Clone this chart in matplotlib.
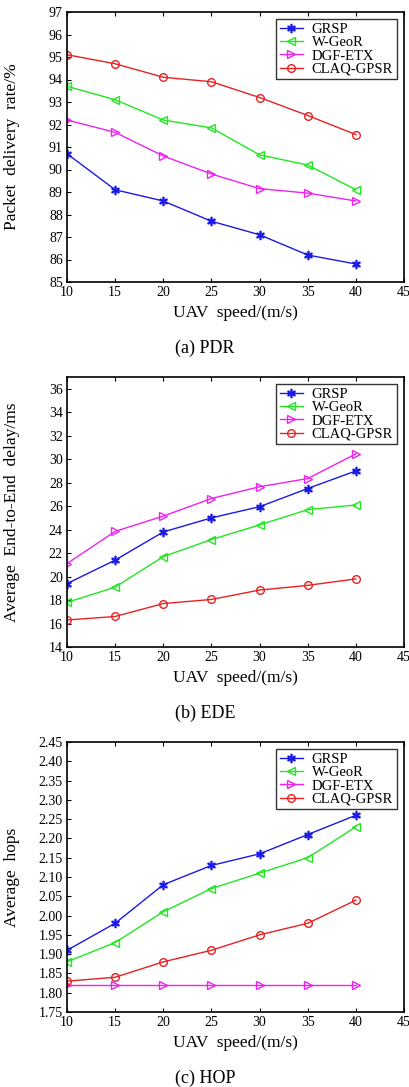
import matplotlib
matplotlib.use("Agg")
import matplotlib.pyplot as plt

plt.rcParams['font.family'] = ['Liberation Serif', 'DejaVu Serif']
plt.rcParams['mathtext.fontset'] = 'cm'

speed = [10, 15, 20, 25, 30, 35, 40]
names = ['GRSP', 'W-GeoR', 'DGF-ETX', 'CLAQ-GPSR']
colors = ['#1a1ae6', '#22e622', '#ee22ee', '#e62222']
markers = ['$\\ast$', '<', '>', 'o']

pdr_grsp = [90.7, 89.1, 88.6, 87.7, 87.1, 86.2, 85.8]
pdr_wgeor = [93.7, 93.1, 92.2, 91.85, 90.65, 90.2, 89.1]
pdr_dgf = [92.2, 91.65, 90.6, 89.8, 89.15, 88.95, 88.6]
pdr_claq = [95.1, 94.7, 94.1, 93.9, 93.2, 92.4, 91.55]

ede_grsp = [19.4, 21.4, 23.8, 25.0, 25.95, 27.5, 29.0]
ede_wgeor = [17.8, 19.1, 21.7, 23.15, 24.4, 25.7, 26.1]
ede_dgf = [21.1, 23.85, 25.15, 26.65, 27.65, 28.35, 30.45]
ede_claq = [16.3, 16.6, 17.7, 18.05, 18.85, 19.25, 19.8]

hop_grsp = [1.91, 1.98, 2.08, 2.13, 2.16, 2.21, 2.26]
hop_wgeor = [1.88, 1.93, 2.01, 2.07, 2.11, 2.15, 2.23]
hop_dgf = [1.82, 1.82, 1.82, 1.82, 1.82, 1.82, 1.82]
hop_claq = [1.83, 1.84, 1.88, 1.91, 1.95, 1.98, 2.04]

fig = plt.figure(figsize=(4.10, 10.87), dpi=100)
W, H = 410.0, 1087.0

panels = [
    ([pdr_grsp, pdr_wgeor, pdr_dgf, pdr_claq], 12, 282, (85, 97), list(range(85, 98)),
     'Packet  delivery  rate/%', '(a) PDR', '%d'),
    ([ede_grsp, ede_wgeor, ede_dgf, ede_claq], 377, 647, (14, 37), list(range(14, 37, 2)),
     'Average  End-to-End  delay/ms', '(b) EDE', '%d'),
    ([hop_grsp, hop_wgeor, hop_dgf, hop_claq], 742, 1012, (1.75, 2.45),
     [1.75 + 0.05 * i for i in range(15)], 'Average  hops', '(c) HOP', '%.2f'),
]

for series, top, bot, ylim, yticks, ylab, cap, fmt in panels:
    ax = fig.add_axes([67 / W, 1 - bot / H, (404 - 67) / W, (bot - top) / H])
    for i, s in enumerate(series):
        ms = 6 if i == 0 else 5.5
        ax.plot(speed, s, color=colors[i], marker=markers[i], markersize=ms,
                markerfacecolor='none' if i else colors[i], markeredgecolor=colors[i],
                lw=1.0, label=names[i])
    ax.set_xlim(10, 45)
    ax.set_ylim(*ylim)
    ax.set_xticks([10, 15, 20, 25, 30, 35, 40, 45])
    ax.set_yticks(yticks)
    ax.set_yticklabels([fmt % v for v in yticks])
    ax.tick_params(direction='in', top=True, right=False, labelsize=10, length=3, pad=3)
    for sp in ax.spines.values():
        sp.set_linewidth(1.2)
    ax.set_xlabel('UAV  speed/(m/s)', fontsize=12.5, labelpad=4)
    ax.set_ylabel(ylab, fontsize=12.5)
    ax.yaxis.set_label_coords(-0.14, 0.5)
    leg = ax.legend(loc='upper right', fontsize=10.5, frameon=True, fancybox=False,
                    edgecolor='black', borderpad=0.25, labelspacing=0.0,
                    handlelength=1.6, handletextpad=0.6, borderaxespad=0.5)
    leg.get_frame().set_linewidth(1.0)
    fig.text(0.5, 1 - (bot + 66) / H, cap, ha='center', va='center', fontsize=13)

fig.savefig('out.png', dpi=100)
